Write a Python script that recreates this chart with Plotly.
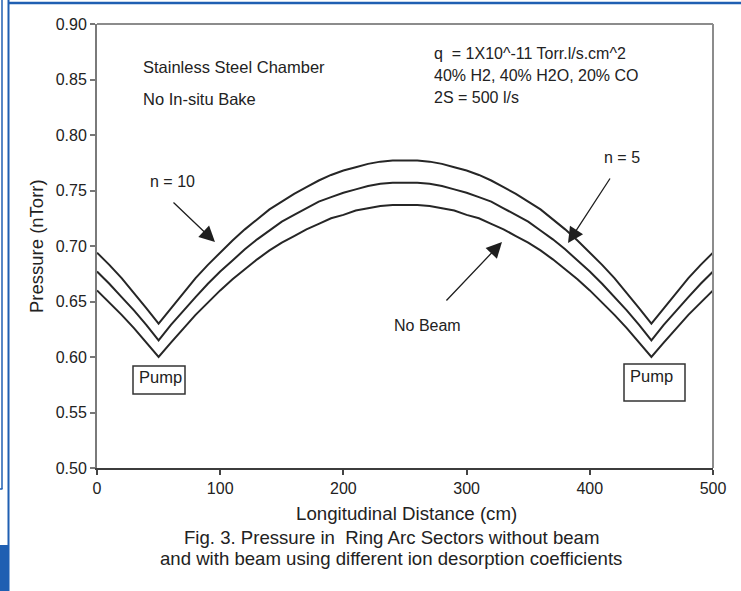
import plotly.graph_objects as go

# ---- data ----
distance_cm = list(range(0, 501, 10))

p_n10 = [0.694, 0.683, 0.671, 0.658, 0.644, 0.630, 0.644, 0.658, 0.671, 0.683,
         0.694, 0.705, 0.715, 0.724, 0.733, 0.740, 0.747, 0.753, 0.759, 0.764,
         0.768, 0.771, 0.774, 0.776, 0.777, 0.777, 0.777, 0.776, 0.774, 0.771,
         0.768, 0.764, 0.759, 0.753, 0.747, 0.740, 0.733, 0.724, 0.715, 0.705,
         0.694, 0.683, 0.671, 0.658, 0.644, 0.630, 0.644, 0.658, 0.671, 0.683,
         0.694]

p_n5 = [0.677, 0.666, 0.654, 0.642, 0.629, 0.615, 0.629, 0.642, 0.654, 0.666,
        0.677, 0.687, 0.697, 0.706, 0.714, 0.722, 0.728, 0.734, 0.740, 0.744,
        0.748, 0.751, 0.754, 0.756, 0.757, 0.757, 0.757, 0.756, 0.754, 0.751,
        0.748, 0.744, 0.740, 0.734, 0.728, 0.722, 0.714, 0.706, 0.697, 0.687,
        0.677, 0.666, 0.654, 0.642, 0.629, 0.615, 0.629, 0.642, 0.654, 0.666,
        0.677]

p_nobeam = [0.660, 0.649, 0.638, 0.626, 0.613, 0.600, 0.613, 0.626, 0.638, 0.649,
            0.660, 0.670, 0.679, 0.688, 0.696, 0.703, 0.709, 0.715, 0.720, 0.725,
            0.728, 0.732, 0.734, 0.736, 0.737, 0.737, 0.737, 0.736, 0.734, 0.732,
            0.728, 0.725, 0.720, 0.715, 0.709, 0.703, 0.696, 0.688, 0.679, 0.670,
            0.660, 0.649, 0.638, 0.626, 0.613, 0.600, 0.613, 0.626, 0.638, 0.649,
            0.660]

x_ticks = [0, 100, 200, 300, 400, 500]
y_ticks = [0.50, 0.55, 0.60, 0.65, 0.70, 0.75, 0.80, 0.85, 0.90]

# ---- layout geometry ----
W, H = 741, 591
L, R, T, B = 97, 28, 24, 123
PW, PH = W - L - R, H - T - B


def px(p):
    return (p - L) / PW


def py(p):
    return (H - B - p) / PH


FONT = "Liberation Sans, Arial, sans-serif"
TXT = "#222222"
BLUE = "#1f5fb2"

fig = go.Figure()
for vals in (p_n10, p_n5, p_nobeam):
    fig.add_trace(go.Scatter(x=distance_cm, y=vals, mode="lines",
                             line=dict(color="#262626", width=2),
                             showlegend=False, hoverinfo="skip"))

ann = []


def text(x, y, s, size=16, xanchor="left"):
    ann.append(dict(x=px(x), y=py(y), xref="paper", yref="paper", text=s,
                    showarrow=False, xanchor=xanchor, yanchor="middle",
                    font=dict(family=FONT, size=size, color=TXT)))


text(141, 67, "Stainless Steel Chamber", size=16.5)
text(141, 99, "No In-situ Bake", size=16.5)
text(432, 54, "q  = 1X10^-11 Torr.l/s.cm^2")
text(432, 75, "40% H2, 40% H2O, 20% CO")
text(432, 97, "2S = 500 l/s")
text(172, 181, "n = 10", xanchor="center")
text(622, 157, "n = 5", xanchor="center")
text(427, 325, "No Beam", xanchor="center")
text(137, 377, "Pump", size=16.5)
text(628, 376, "Pump", size=16.5)
text(406, 513, "Longitudinal Distance (cm)", size=18.7, xanchor="center")
text(391, 537, "Fig. 3. Pressure in  Ring Arc Sectors without beam", size=18.6, xanchor="center")
text(391, 558, "and with beam using different ion desorption coefficients", size=18.6, xanchor="center")

ann.append(dict(x=px(36), y=py(246), xref="paper", yref="paper",
                text="Pressure (nTorr)", textangle=-90, showarrow=False,
                xanchor="center", yanchor="middle",
                font=dict(family=FONT, size=18.5, color=TXT)))


def arrow(tipx, tipy, tailx, taily):
    ann.append(dict(x=px(tipx), y=py(tipy), xref="paper", yref="paper",
                    ax=tailx - tipx, ay=taily - tipy, text="", showarrow=True,
                    arrowhead=2, arrowsize=2.4, arrowwidth=1.3,
                    arrowcolor="#1e1e1e"))


arrow(215, 242, 172, 201)
arrow(568, 243, 611, 177)
arrow(502, 242, 445, 302)

shapes = [
    # pump boxes
    dict(type="rect", xref="paper", yref="paper", x0=px(133), x1=px(185),
         y0=py(394), y1=py(366), line=dict(color="#333333", width=1.5)),
    dict(type="rect", xref="paper", yref="paper", x0=px(624), x1=px(685),
         y0=py(401), y1=py(364), line=dict(color="#333333", width=1.5)),
    # plot frame top & right
    dict(type="line", xref="paper", yref="paper", x0=0, x1=1, y0=1, y1=1,
         line=dict(color="#8c8c8c", width=2)),
    dict(type="line", xref="paper", yref="paper", x0=1, x1=1, y0=0, y1=1,
         line=dict(color="#8c8c8c", width=2)),
    # blue page decorations
    dict(type="line", xref="paper", yref="paper", x0=px(8.5), x1=px(8.5),
         y0=py(0), y1=py(591), line=dict(color=BLUE, width=2)),
    dict(type="line", xref="paper", yref="paper", x0=px(8), x1=px(741),
         y0=py(3), y1=py(3), line=dict(color=BLUE, width=2.5)),
    dict(type="line", xref="paper", yref="paper", x0=px(2), x1=px(2),
         y0=py(0), y1=py(489), line=dict(color=BLUE, width=1.5)),
    dict(type="line", xref="paper", yref="paper", x0=px(0), x1=px(2.5),
         y0=py(489), y1=py(489), line=dict(color=BLUE, width=1.5)),
    dict(type="rect", xref="paper", yref="paper", x0=px(0), x1=px(8),
         y0=py(591), y1=py(545), fillcolor=BLUE, line=dict(width=0)),
]

fig.update_layout(
    width=W, height=H,
    margin=dict(l=L, r=R, t=T, b=B, pad=0),
    paper_bgcolor="white", plot_bgcolor="white",
    showlegend=False,
    annotations=ann, shapes=shapes,
    xaxis=dict(range=[0, 500], tickvals=x_ticks, ticks="outside", ticklen=5,
               tickwidth=2, tickcolor="#444444", showline=True,
               linecolor="#3c3c3c", linewidth=2, showgrid=False,
               zeroline=False,
               tickfont=dict(family=FONT, size=16, color=TXT)),
    yaxis=dict(range=[0.5, 0.9], tickvals=y_ticks, tickformat=".2f",
               ticks="outside", ticklen=5, tickwidth=2, tickcolor="#777777",
               showline=True, linecolor="#7a7a7a", linewidth=2,
               showgrid=False, zeroline=False,
               tickfont=dict(family=FONT, size=16, color=TXT)),
)

fig.write_html("out.html",
               config={"displayModeBar": False, "staticPlot": True},
               post_script="document.body.style.margin='0';"
                           "document.body.style.overflow='hidden';")
